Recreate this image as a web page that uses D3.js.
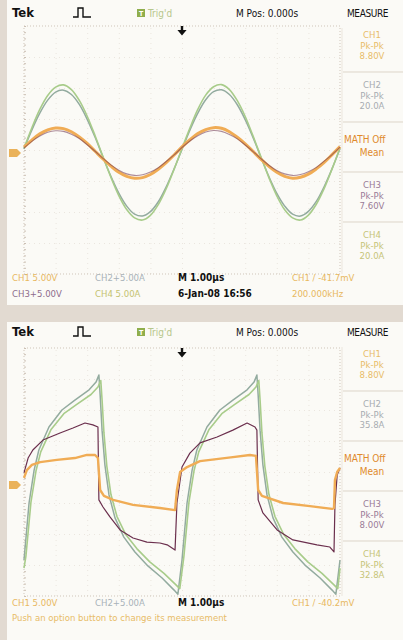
<!DOCTYPE html>
<html>
<head>
<meta charset="utf-8">
<script src="https://cdn.jsdelivr.net/npm/d3@7"></script>
<style>
body{margin:0;background:#e4ddd4;}
svg{display:block;}
text{font-family:"Liberation Sans Narrow","DejaVu Sans Condensed",sans-serif;}
</style>
</head>
<body>
<svg id="scope" width="403" height="640"></svg>
<script>
// time in microseconds (1.00us / div), values in screen divisions

// ---- upper capture: sine drive ----
var timeTop = [-5,-4.75,-4.5,-4.25,-4,-3.75,-3.5,-3.25,-3,-2.75,-2.5,-2.25,-2,-1.75,-1.5,-1.25,-1,-0.75,-0.5,-0.25,
  0,0.25,0.5,0.75,1,1.25,1.5,1.75,2,2.25,2.5,2.75,3,3.25,3.5,3.75,4,4.25,4.5,4.75,5];
var topCh1 = [0.09,0.32,0.52,0.65,0.71,0.69,0.59,0.42,0.21,-0.04,-0.29,-0.52,-0.72,-0.85,-0.91,-0.89,-0.79,-0.62,-0.41,-0.16,
  0.10,0.33,0.53,0.66,0.72,0.70,0.59,0.41,0.20,-0.05,-0.30,-0.53,-0.72,-0.85,-0.91,-0.88,-0.78,-0.61,-0.40,-0.15,0.11];
var topCh2 = [0.03,0.65,1.19,1.61,1.87,1.93,1.79,1.47,0.99,0.41,-0.23,-0.85,-1.39,-1.81,-2.07,-2.13,-1.99,-1.67,-1.19,-0.61,
  0.02,0.64,1.19,1.62,1.88,1.94,1.79,1.46,0.98,0.40,-0.24,-0.86,-1.40,-1.81,-2.07,-2.13,-1.98,-1.66,-1.18,-0.60,0.04];
var topCh3 = [0.07,0.28,0.45,0.57,0.62,0.60,0.51,0.37,0.17,-0.04,-0.27,-0.48,-0.65,-0.77,-0.82,-0.80,-0.71,-0.57,-0.37,-0.16,
  0.08,0.29,0.46,0.58,0.63,0.60,0.50,0.36,0.16,-0.05,-0.28,-0.49,-0.66,-0.77,-0.82,-0.79,-0.70,-0.56,-0.36,-0.15,0.09];
var topCh4 = [0.06,0.72,1.31,1.76,2.03,2.10,1.95,1.60,1.09,0.46,-0.22,-0.88,-1.47,-1.92,-2.19,-2.26,-2.11,-1.76,-1.25,-0.62,
  0.05,0.71,1.31,1.77,2.04,2.11,1.95,1.59,1.08,0.45,-0.23,-0.89,-1.48,-1.93,-2.19,-2.26,-2.10,-1.75,-1.24,-0.61,0.07];

// ---- lower capture: square drive, [time, div] ----
var botCh1 = [[-5.00,-0.19],[-4.91,0.06],[-4.75,0.23],[-4.49,0.32],[-3.96,0.39],[-3.39,0.45],[-3.01,0.55],[-2.75,0.55],[-2.66,0.45],
  [-2.59,-0.58],[-2.47,-0.77],[-2.18,-0.90],[-1.55,-1.06],[-0.70,-1.16],[-0.22,-1.23],[-0.16,-0.58],[-0.06,0.00],[0.16,0.16],
  [0.57,0.35],[1.61,0.48],[2.15,0.55],[2.34,0.52],[2.41,-0.58],[2.53,-0.77],[3.20,-1.00],[4.05,-1.10],[4.75,-1.19],[4.81,-1.16],
  [4.84,-0.26],[4.91,0.00],[5.00,0.13]];
var botCh2 = [[-5.00,-2.84],[-4.84,-1.00],[-4.68,0.06],[-4.53,0.71],[-4.21,1.45],[-3.80,2.00],[-3.39,2.32],[-2.94,2.65],[-2.72,2.90],
  [-2.63,3.13],[-2.59,2.48],[-2.53,1.35],[-2.44,0.23],[-2.31,-0.74],[-2.12,-1.48],[-1.84,-2.10],[-1.49,-2.58],[-1.08,-3.03],
  [-0.63,-3.42],[-0.25,-3.81],[-0.13,-3.94],[0.00,-2.84],[0.16,-1.00],[0.32,0.06],[0.47,0.71],[0.79,1.45],[1.20,2.00],[1.61,2.32],
  [2.06,2.65],[2.28,2.90],[2.37,3.13],[2.41,2.48],[2.47,1.35],[2.56,0.23],[2.69,-0.74],[2.88,-1.48],[3.16,-2.10],[3.51,-2.58],
  [3.92,-3.03],[4.37,-3.42],[4.75,-3.81],[4.87,-3.94],[5.00,-2.84]];
var botCh3 = [[-5.00,-0.03],[-4.87,0.45],[-4.72,0.71],[-4.40,1.03],[-3.86,1.26],[-3.45,1.42],[-3.07,1.58],[-2.82,1.52],[-2.66,1.45],
  [-2.63,-0.90],[-2.50,-1.13],[-2.28,-1.45],[-1.96,-1.87],[-1.55,-2.13],[-1.11,-2.26],[-0.70,-2.29],[-0.47,-2.35],[-0.22,-2.52],
  [-0.16,-1.00],[0.00,0.16],[0.25,0.61],[0.57,0.94],[1.11,1.13],[1.61,1.35],[2.06,1.58],[2.31,1.45],[2.37,1.35],[2.41,-0.90],
  [2.56,-1.32],[3.01,-1.87],[3.51,-2.19],[4.27,-2.35],[4.68,-2.42],[4.81,-2.58],[4.84,-1.06],[4.91,-0.10],[5.00,0.13]];
var botCh4 = [[-5.00,-3.10],[-4.94,-2.72],[-4.78,-0.97],[-4.62,0.04],[-4.47,0.65],[-4.15,1.36],[-3.74,1.88],[-3.33,2.18],[-2.88,2.50],
  [-2.66,2.74],[-2.57,2.95],[-2.53,2.34],[-2.47,1.26],[-2.38,0.20],[-2.25,-0.72],[-2.06,-1.43],[-1.78,-2.02],[-1.43,-2.47],
  [-1.02,-2.90],[-0.57,-3.27],[-0.19,-3.64],[-0.07,-3.76],[0.06,-2.72],[0.22,-0.97],[0.38,0.04],[0.53,0.65],[0.85,1.36],[1.26,1.88],
  [1.67,2.18],[2.12,2.50],[2.34,2.74],[2.43,2.95],[2.47,2.34],[2.53,1.26],[2.62,0.20],[2.75,-0.72],[2.94,-1.43],[3.22,-2.02],
  [3.57,-2.47],[3.98,-2.90],[4.43,-3.27],[4.81,-3.64],[4.93,-3.76],[5.00,-3.10]];

// ---- texts ----
var measureTop = [["CH1","Pk-Pk","8.80V"],["CH2","Pk-Pk","20.0A"],["MATH Off","Mean",""],["CH3","Pk-Pk","7.60V"],["CH4","Pk-Pk","20.0A"]];
var measureBottom = [["CH1","Pk-Pk","8.80V"],["CH2","Pk-Pk","35.8A"],["MATH Off","Mean",""],["CH3","Pk-Pk","8.00V"],["CH4","Pk-Pk","32.8A"]];
var statusTop = [["CH1  5.00V","CH2+5.00A","M 1.00µs","CH1 / -41.7mV"],["CH3+5.00V","CH4  5.00A","6-Jan-08 16:56","200.000kHz"]];
var statusBottom = [["CH1  5.00V","CH2+5.00A","M 1.00µs","CH1 / -40.2mV"],["Push an option button to change its measurement"]];

var traceColor = {ch1:"#f0ac55", ch2:"#93ab9f", ch3:"#6b2f4d", ch4:"#a8cc8a"};
var labelColor = ["#e8bc68","#a7acb1","#e08a2c","#9a7b96","#c6c478"];
var statusColor = [["#e8b860","#a8b2b9","#111","#e8b860"],["#8e6c8c","#c4c270","#111","#e8b860"]];

var svg = d3.select("#scope");

// photo edge: tan strip left and gap between captures
svg.append("rect").attr("x",0).attr("y",0).attr("width",403).attr("height",640).attr("fill","#e2dad1");

var screens = [
  {y0:0, h:305, header:17, plotTop:26, plotBottom:274, ground:-0.1, mTop:38, rows:[281,297], measure:measureTop, status:statusTop, kind:"top"},
  {y0:322, h:318, header:336, plotTop:348, plotBottom:596, ground:-0.42, mTop:357, rows:[606,621], measure:measureBottom, status:statusBottom, kind:"bottom"}
];

screens.forEach(function(s){
  var g = svg.append("g");
  g.append("rect").attr("x",7).attr("y",s.y0).attr("width",396).attr("height",s.h).attr("fill","#fbfaf6");

  var xScale = d3.scaleLinear().domain([-5,5]).range([24,340]);
  var yScale = d3.scaleLinear().domain([-4,4]).range([s.plotBottom,s.plotTop]);
  var plotH = s.plotBottom - s.plotTop;

  // graticule
  var gx = g.append("g").attr("transform","translate(0,"+s.plotBottom+")")
    .call(d3.axisBottom(xScale).tickValues(d3.range(-4,5,1)).tickSize(plotH).tickFormat(""));
  gx.selectAll("line").attr("y2",-plotH).attr("stroke","#ebe6df").attr("stroke-dasharray","1,4");
  gx.select(".domain").remove();
  var gy = g.append("g").attr("transform","translate(24,0)")
    .call(d3.axisRight(yScale).tickValues(d3.range(-3,4,1)).tickSize(316).tickFormat(""));
  gy.selectAll("line").attr("stroke","#ebe6df").attr("stroke-dasharray","1,4");
  gy.select(".domain").remove();
  // minor ticks on the left frame
  var gm = g.append("g").attr("transform","translate(24,0)")
    .call(d3.axisRight(yScale).tickValues(d3.range(-4,4.01,0.2)).tickSize(2).tickFormat(""));
  gm.selectAll("line").attr("stroke","#cbbfb3");
  gm.select(".domain").remove();
  g.append("rect").attr("x",24).attr("y",s.plotTop).attr("width",316).attr("height",plotH)
    .attr("fill","none").attr("stroke","#cfc5b9").attr("stroke-dasharray","1,2");

  // traces
  if(s.kind == "top"){
    var lineTop = d3.line().x(function(d,i){ return xScale(timeTop[i]); }).y(function(d){ return yScale(d); }).curve(d3.curveCatmullRom);
    [[topCh2,"ch2",1.5],[topCh4,"ch4",1.6],[topCh1,"ch1",3],[topCh3,"ch3",1.1]].forEach(function(t){
      g.append("path").datum(t[0]).attr("d",lineTop).attr("fill","none")
        .attr("stroke",traceColor[t[1]]).attr("stroke-width",t[2])
        .attr("opacity", t[1]=="ch3" ? 0.55 : 1);
    });
  } else {
    var lineBot = d3.line().x(function(d){ return xScale(d[0]); }).y(function(d){ return yScale(d[1]); });
    [[botCh2,"ch2",1.5],[botCh4,"ch4",1.6],[botCh3,"ch3",1.2],[botCh1,"ch1",2.4]].forEach(function(t){
      g.append("path").datum(t[0]).attr("d",lineBot).attr("fill","none")
        .attr("stroke",traceColor[t[1]]).attr("stroke-width",t[2]).attr("stroke-linejoin","round");
    });
  }

  // ground marker and trigger arrow
  var gy0 = yScale(s.ground);
  g.append("path").attr("d","M9,"+(gy0-4)+"L17,"+(gy0-4)+"L21,"+gy0+"L17,"+(gy0+4)+"L9,"+(gy0+4)+"Z").attr("fill","#eab25a");
  var tx = xScale(0);
  g.append("path").attr("d","M"+(tx-1.2)+","+(s.plotTop)+"h2.4v4h3.4l-4.6,5.5l-4.6,-5.5h3.4Z").attr("fill","#111");

  // header
  g.append("text").attr("x",12).attr("y",s.header).attr("font-size",13).attr("font-weight","bold").attr("fill","#111").text("Tek");
  var py = s.header;
  g.append("path").attr("d","M73,"+py+"h5v-9h5v9h8").attr("fill","none").attr("stroke","#111").attr("stroke-width",1.4);
  g.append("rect").attr("x",137).attr("y",py-8).attr("width",8).attr("height",8).attr("fill","#8fae4c");
  g.append("text").attr("x",139).attr("y",py-1).attr("font-size",7).attr("font-weight","bold").attr("fill","#fff").text("T");
  g.append("text").attr("x",148).attr("y",py).attr("font-size",10).attr("fill","#b7c78c").text("Trig'd");
  g.append("text").attr("x",236).attr("y",py).attr("font-size",10).attr("fill","#111").text("M Pos: 0.000s");
  g.append("text").attr("x",347).attr("y",py).attr("font-size",10).attr("fill","#111").attr("letter-spacing",-0.4).text("MEASURE");

  // measurement menu
  s.measure.forEach(function(m,i){
    var by = s.mTop + i*50;
    var isMath = m[0].indexOf("MATH") == 0;
    if(isMath){
      g.append("text").attr("x",344).attr("y",by+5).attr("font-size",10).attr("fill",labelColor[i]).text(m[0]);
      g.append("text").attr("x",372).attr("y",by+18).attr("text-anchor","middle").attr("font-size",10).attr("fill",labelColor[i]).text(m[1]);
    } else {
      m.forEach(function(line,j){
        g.append("text").attr("x",372).attr("y",by+j*10.5).attr("text-anchor","middle").attr("font-size",9.5)
          .attr("fill",labelColor[i]).text(line);
      });
    }
    if(i < 4){
      g.append("line").attr("x1",343).attr("x2",403).attr("y1",by+34).attr("y2",by+34).attr("stroke","#ddd5c9");
    }
  });
  g.append("line").attr("x1",342).attr("x2",342).attr("y1",s.mTop-10).attr("y2",s.plotBottom).attr("stroke","#ece6dd");

  // status rows
  var colX = [12, 95, 178, 292];
  s.status.forEach(function(row,r){
    row.forEach(function(txt,c){
      var black = statusColor[r][c] == "#111";
      g.append("text").attr("x",colX[c]).attr("y",s.rows[r]).attr("font-size",black ? 10 : 9.5)
        .attr("font-weight", black ? "bold" : "normal")
        .attr("fill", row.length == 1 ? "#e8bc68" : statusColor[r][c]).text(txt);
    });
  });
});
</script>
</body>
</html>
